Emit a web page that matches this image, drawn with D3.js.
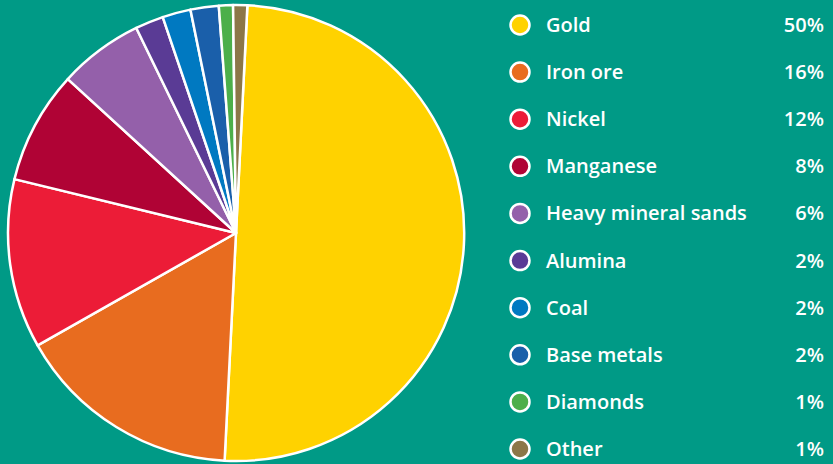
<!DOCTYPE html>
<html>
<head>
<meta charset="utf-8">
<script src="https://cdn.jsdelivr.net/npm/d3@7"></script>
<style>
  html, body { margin: 0; padding: 0; background: #009a86; }
  svg { display: block; }
</style>
</head>
<body>
<div id="chart"></div>
<script>
const categories = ['Gold', 'Iron ore', 'Nickel', 'Manganese', 'Heavy mineral sands',
  'Alumina', 'Coal', 'Base metals', 'Diamonds', 'Other'];
const values = [50, 16, 12, 8, 6, 2, 2, 2, 1, 1];
const colors = ['#ffd200', '#e86c1f', '#ec1c37', '#b00335', '#9460aa',
  '#5a3b95', '#0079c1', '#1a5faa', '#4caf4a', '#8c7748'];

const width = 833, height = 464;
const cx = 236, cy = 233, radius = 228;

const svg = d3.select('#chart').append('svg')
  .attr('width', width)
  .attr('height', height);

svg.append('rect')
  .attr('width', width)
  .attr('height', height)
  .attr('fill', '#009a86');

const data = categories.map((c, i) => ({ name: c, value: values[i], color: colors[i] }));

const pie = d3.pie()
  .sort(null)
  .value(d => d.value)
  .startAngle(0.05)
  .endAngle(0.05 + 2 * Math.PI);

const arc = d3.arc().innerRadius(0).outerRadius(radius);

const g = svg.append('g').attr('transform', `translate(${cx},${cy})`);

g.selectAll('path')
  .data(pie(data))
  .enter()
  .append('path')
  .attr('d', arc)
  .attr('fill', d => d.data.color)
  .attr('stroke', '#fff')
  .attr('stroke-width', 2.5)
  .attr('stroke-linejoin', 'round');

// legend
const y = d3.scalePoint()
  .domain(categories)
  .range([25, 449]);

const legend = svg.append('g');
const rows = legend.selectAll('g')
  .data(data)
  .enter()
  .append('g')
  .attr('transform', d => `translate(0,${y(d.name)})`);

rows.append('circle')
  .attr('cx', 520)
  .attr('cy', 0)
  .attr('r', 9.5)
  .attr('fill', d => d.color)
  .attr('stroke', '#fff')
  .attr('stroke-width', 2.5);

const font = { family: '"Open Sans", sans-serif', size: '20px', weight: 600 };

rows.append('text')
  .attr('x', 546)
  .attr('y', 0)
  .attr('dy', '0.35em')
  .attr('fill', '#fff')
  .style('font-family', font.family)
  .style('font-size', font.size)
  .style('font-weight', font.weight)
  .text(d => d.name);

rows.append('text')
  .attr('x', 824)
  .attr('y', 0)
  .attr('dy', '0.35em')
  .attr('text-anchor', 'end')
  .attr('fill', '#fff')
  .style('font-family', font.family)
  .style('font-size', font.size)
  .style('font-weight', font.weight)
  .text(d => d.value + '%');
</script>
</body>
</html>
